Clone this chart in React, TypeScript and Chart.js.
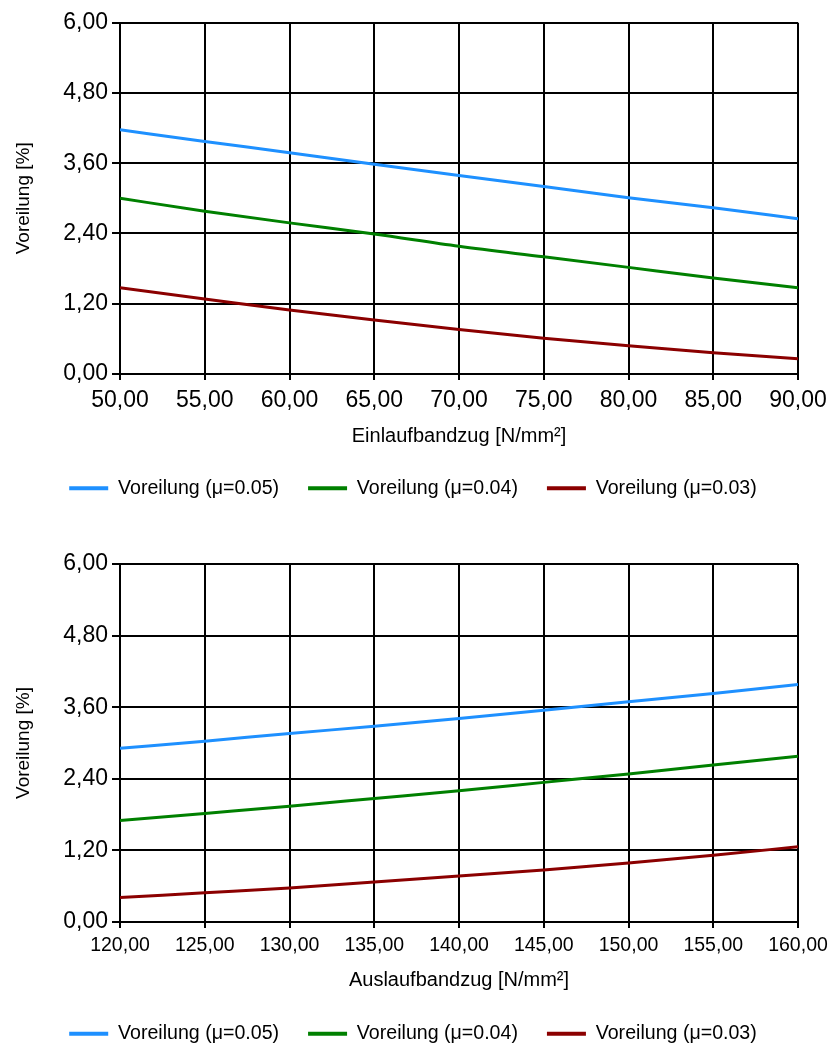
import React, { useEffect, useRef } from "react";
import { Chart, registerables } from "chart.js";

Chart.register(...registerables);

const seriesLabels = ["Voreilung (μ=0.05)", "Voreilung (μ=0.04)", "Voreilung (μ=0.03)"];
const seriesColors = ["#1E90FF", "#008000", "#8B0000"];

const yTicks = [0, 1.2, 2.4, 3.6, 4.8, 6.0];

const einlaufX = [50, 55, 60, 65, 70, 75, 80, 85, 90];
const einlaufMu05 = [4.17, 3.97, 3.78, 3.58, 3.39, 3.2, 3.01, 2.84, 2.65];
const einlaufMu04 = [3.0, 2.78, 2.58, 2.39, 2.18, 2.0, 1.82, 1.64, 1.47];
const einlaufMu03 = [1.47, 1.28, 1.09, 0.92, 0.76, 0.61, 0.48, 0.36, 0.26];

const auslaufX = [120, 125, 130, 135, 140, 145, 150, 155, 160];
const auslaufMu05 = [2.91, 3.03, 3.16, 3.28, 3.41, 3.55, 3.69, 3.83, 3.98];
const auslaufMu04 = [1.7, 1.82, 1.94, 2.07, 2.2, 2.34, 2.48, 2.63, 2.78];
const auslaufMu03 = [0.41, 0.49, 0.57, 0.67, 0.77, 0.87, 0.99, 1.12, 1.26];

const FONT = "'Liberation Sans', Arial, sans-serif";
const fmt = (v: number) => v.toFixed(2).replace(".", ",");

type Layout = {
  top: number;
  height: number;
  padTop: number;
  padBottom: number;
  xScaleHeight: number;
  xTickPad: number;
  xTickSize: number;
  xTitlePadBottom: number;
};

function LineChart(props: {
  xValues: number[];
  series: number[][];
  xTitle: string;
  layout: Layout;
}) {
  const ref = useRef<HTMLCanvasElement | null>(null);
  useEffect(() => {
    if (!ref.current) return;
    const { xValues, series, xTitle, layout } = props;
    const chart = new Chart(ref.current, {
      type: "line",
      data: {
        datasets: series.map((vals, i) => ({
          label: seriesLabels[i],
          data: vals.map((y, j) => ({ x: xValues[j], y })),
          borderColor: seriesColors[i],
          backgroundColor: seriesColors[i],
          borderWidth: 3,
          pointRadius: 0,
          tension: 0.4,
          cubicInterpolationMode: "monotone",
        })),
      },
      options: {
        responsive: false,
        animation: false,
        layout: {
          padding: { top: layout.padTop, bottom: layout.padBottom, left: 0, right: 4 },
        },
        plugins: {
          tooltip: { enabled: false },
          legend: {
            position: "bottom",
            labels: {
              color: "#000",
              font: { family: FONT, size: 19.6 },
              boxWidth: 39,
              boxHeight: 4,
              padding: 29,
              generateLabels: (c: any) =>
                Chart.defaults.plugins.legend.labels
                  .generateLabels(c)
                  .map((l: any) => ({ ...l, lineWidth: 0, fillStyle: l.strokeStyle })),
            },
          },
        },
        scales: {
          x: {
            type: "linear",
            min: xValues[0],
            max: xValues[xValues.length - 1],
            afterBuildTicks: (s: any) => {
              s.ticks = xValues.map((v) => ({ value: v }));
            },
            afterFit: (s: any) => {
              s.height = layout.xScaleHeight;
              s.paddingRight = 32;
              s.paddingLeft = 0;
            },
            grid: { color: "#000", lineWidth: 2, tickLength: 6 },
            border: { color: "#000", width: 2 },
            ticks: {
              color: "#000",
              font: { family: FONT, size: layout.xTickSize },
              padding: layout.xTickPad,
              maxRotation: 0,
              autoSkip: false,
              callback: (v: any) => fmt(Number(v)),
            },
            title: {
              display: true,
              text: xTitle,
              color: "#000",
              font: { family: FONT, size: 20 },
              padding: { top: 0, bottom: layout.xTitlePadBottom },
            },
          },
          y: {
            type: "linear",
            min: 0,
            max: 6,
            afterBuildTicks: (s: any) => {
              s.ticks = yTicks.map((v) => ({ value: v }));
            },
            afterFit: (s: any) => {
              s.width = 120;
            },
            grid: { color: "#000", lineWidth: 2, tickLength: 8 },
            border: { color: "#000", width: 2 },
            ticks: {
              color: "#000",
              font: { family: FONT, size: 23 },
              padding: 4,
              autoSkip: false,
              callback: (v: any) => fmt(Number(v)),
            },
            title: {
              display: true,
              text: "Voreilung [%]",
              color: "#000",
              font: { family: FONT, size: 19 },
              padding: { top: 12.6, bottom: 0 },
            },
          },
        },
      } as any,
    });
    return () => chart.destroy();
  }, []);
  return (
    <canvas
      ref={ref}
      width={830}
      height={props.layout.height}
      style={{ position: "absolute", left: 0, top: props.layout.top, width: 830, height: props.layout.height }}
    />
  );
}

export default function App() {
  return (
    <div
      style={{
        position: "absolute",
        left: 0,
        top: 0,
        width: 830,
        height: 1044,
        overflow: "hidden",
        background: "#fff",
      }}
    >
      <LineChart
        xValues={einlaufX}
        series={[einlaufMu05, einlaufMu04, einlaufMu03]}
        xTitle="Einlaufbandzug [N/mm²]"
        layout={{
          top: 0,
          height: 530,
          padTop: 22.7,
          padBottom: 22,
          xScaleHeight: 75.5,
          xTickPad: 6.5,
          xTickSize: 23,
          xTitlePadBottom: 0.5,
        }}
      />
      <LineChart
        xValues={auslaufX}
        series={[auslaufMu05, auslaufMu04, auslaufMu03]}
        xTitle="Auslaufbandzug [N/mm²]"
        layout={{
          top: 530,
          height: 530,
          padTop: 34,
          padBottom: 6.4,
          xScaleHeight: 73,
          xTickPad: 6.3,
          xTickSize: 19.5,
          xTitlePadBottom: 3,
        }}
      />
    </div>
  );
}
